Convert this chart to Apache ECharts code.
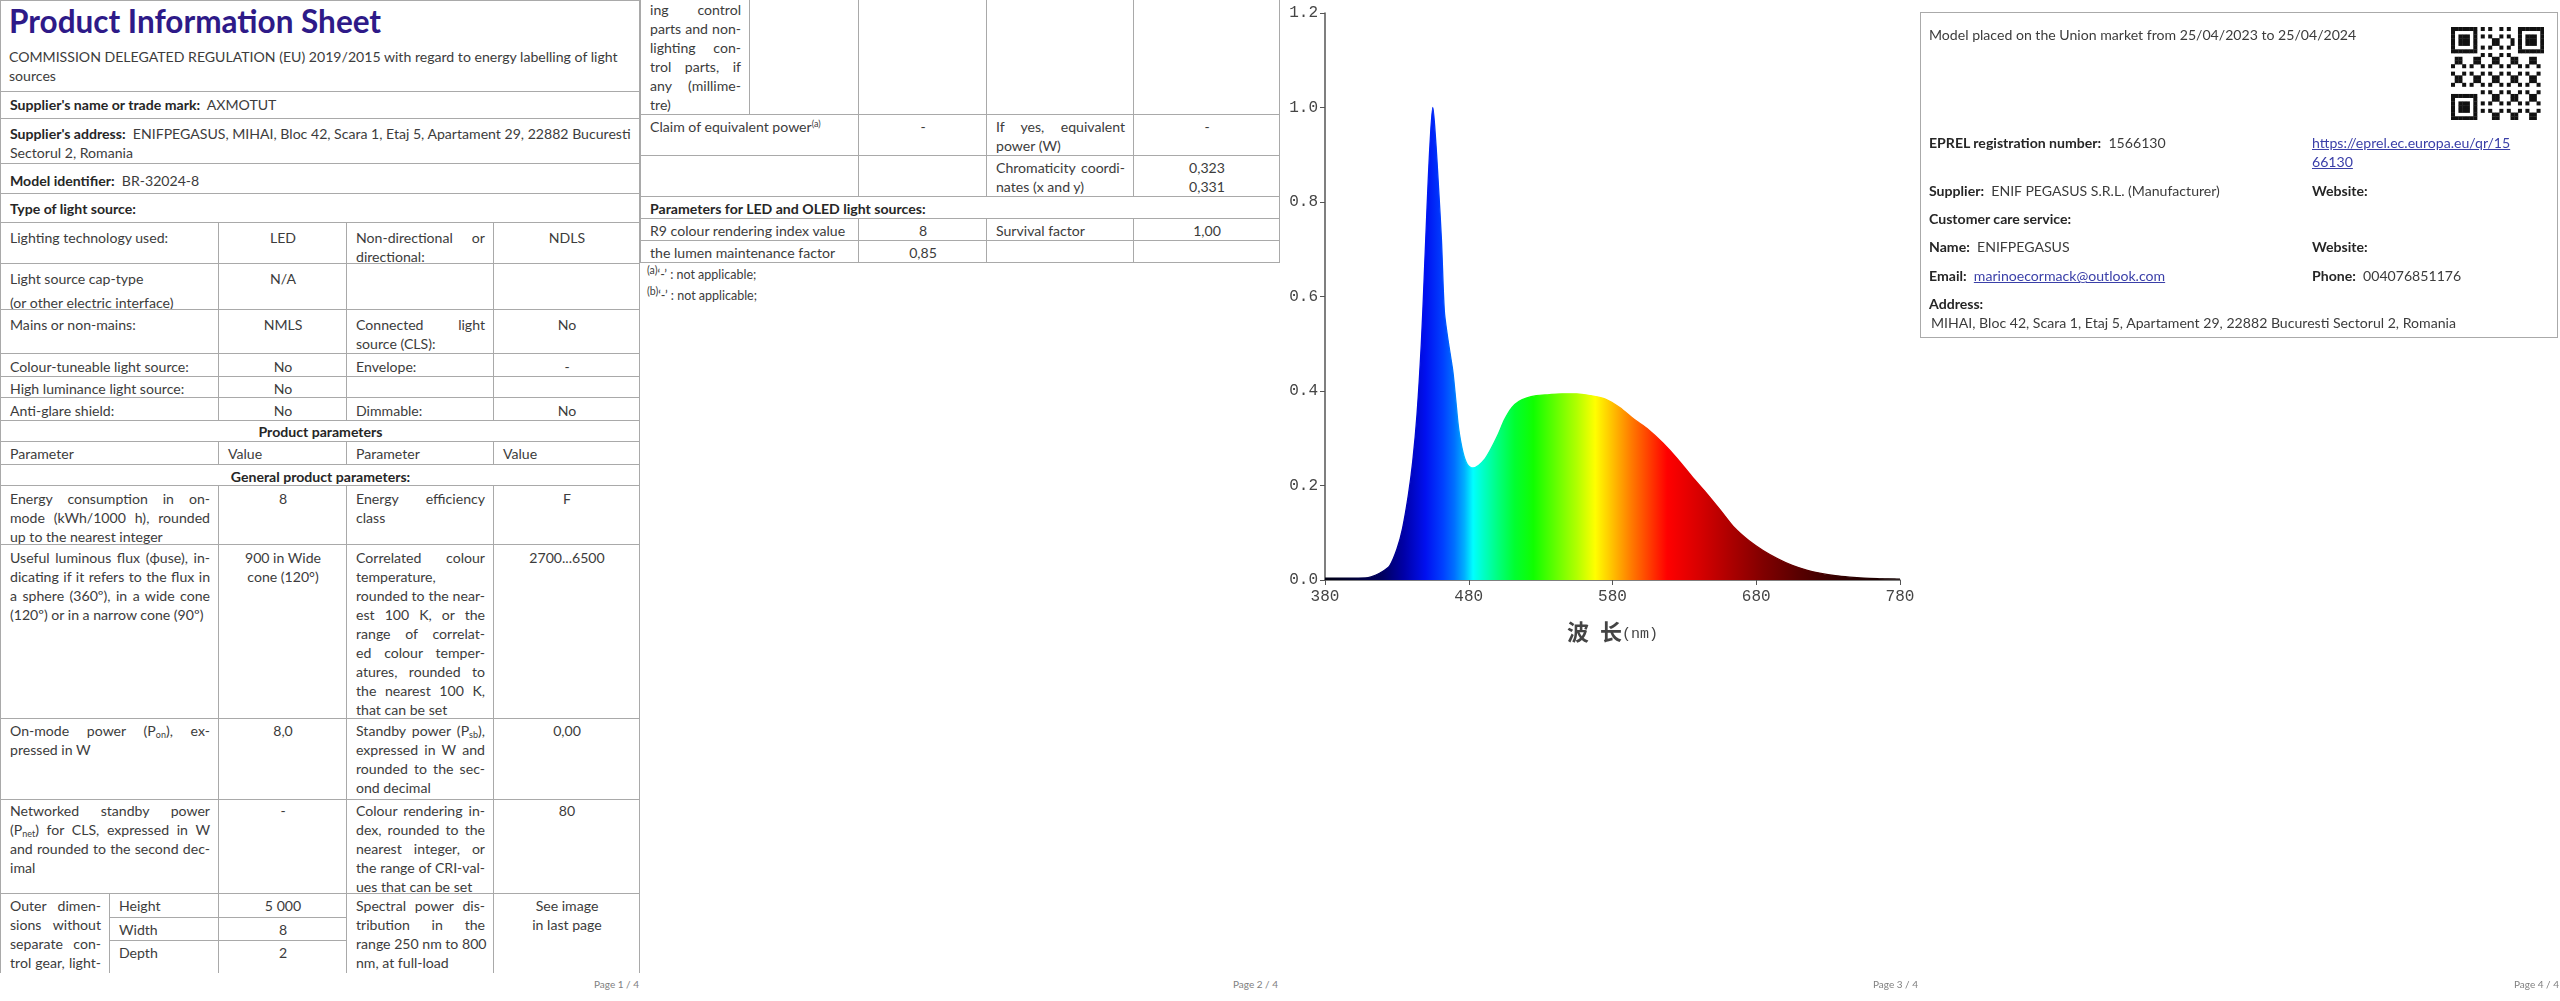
<!DOCTYPE html>
<html>
<head>
<meta charset="utf-8">
<script src="https://cdn.jsdelivr.net/npm/echarts@6.0.0/dist/echarts.min.js"></script>
<style>
html, body { margin: 0; padding: 0; background: #fff; }
body { width: 2560px; height: 1001px; overflow: hidden; position: relative;
       font-family: Lato, 'Noto Sans', sans-serif; font-size: 14.1px; color: #3c3c3c; }
.page { position: absolute; top: 0; width: 640px; height: 1001px; overflow: hidden; }
.clip { position: absolute; left: 0; top: 0; width: 640px; height: 973px; overflow: hidden; }
.cell { position: absolute; box-sizing: border-box; border: 1px solid #a9a9a9; overflow: hidden; padding: 0 8px 0 9px; }
.ln { height: 19px; line-height: 19px; white-space: nowrap; }
.j { text-align: justify; text-align-last: justify; }
.c { text-align: center; }
b, .b { font-weight: 700; color: #262626; }
sub { font-size: 9px; vertical-align: -2px; line-height: 0; }
sup { font-size: 9px; vertical-align: 5px; line-height: 0; }
.foot { position: absolute; font-size: 10px; color: #808080; top: 978px; }
.t { position: absolute; white-space: nowrap; line-height: 19px; }
a { color: #3a3fa8; text-decoration: underline; }
#chart { position: absolute; left: 1280px; top: 0; width: 640px; height: 1001px; }
</style>
</head>
<body>
<div class="page" id="p1"><div class="clip" id="p1c"></div><div class="foot" style="right:1px">Page 1 / 4</div></div>
<div class="page" id="p2" style="left:640px"><div class="foot" style="right:2px">Page 2 / 4</div></div>
<div id="chart"></div>
<div class="page" id="p3f" style="left:1280px;pointer-events:none"><div class="foot" style="right:2px">Page 3 / 4</div></div>
<div class="page" id="p4" style="left:1920px">
  <div style="position:absolute;left:0;top:12px;width:638px;height:326px;box-sizing:border-box;border:1px solid #aaa"></div>
  <div class="t" style="left:9px;top:25px">Model placed on the Union market from 25/04/2023 to 25/04/2024</div>
  <canvas id="qr" width="93" height="93" style="position:absolute;left:531px;top:27px"></canvas>
  <div class="t" style="left:9px;top:133px"><b>EPREL registration number:</b>&nbsp; 1566130</div>
  <div class="t" style="left:392px;top:133px"><a>https://eprel.ec.europa.eu/qr/15</a></div>
  <div class="t" style="left:392px;top:152px"><a>66130</a></div>
  <div class="t" style="left:9px;top:181px"><b>Supplier:</b>&nbsp; ENIF PEGASUS S.R.L. (Manufacturer)</div>
  <div class="t" style="left:392px;top:181px"><b>Website:</b></div>
  <div class="t" style="left:9px;top:209px"><b>Customer care service:</b></div>
  <div class="t" style="left:9px;top:237px"><b>Name:</b>&nbsp; ENIFPEGASUS</div>
  <div class="t" style="left:392px;top:237px"><b>Website:</b></div>
  <div class="t" style="left:9px;top:266px"><b>Email:</b>&nbsp; <a>marinoecormack@outlook.com</a></div>
  <div class="t" style="left:392px;top:266px"><b>Phone:</b>&nbsp; 004076851176</div>
  <div class="t" style="left:9px;top:294px"><b>Address:</b></div>
  <div class="t" style="left:11px;top:313px">MIHAI, Bloc 42, Scara 1, Etaj 5, Apartament 29, 22882 Bucuresti Sectorul 2, Romania</div>
  <div class="foot" style="right:1px">Page 4 / 4</div>
</div>
<script>
// spectrum (wavelength in nm, relative power)
var wavelengths = [380, 390, 400, 410, 415, 420, 425, 430, 434, 438, 441, 444, 447, 449, 451, 453, 455,
  457, 459, 461, 463, 465, 467, 469, 471, 473, 476, 479, 483, 487, 491, 495, 500, 505, 510, 515, 520,
  527, 535, 545, 555, 565, 575, 585, 595, 605, 615, 625, 635, 645, 655, 665, 675, 685, 695, 705, 715,
  725, 735, 745, 755, 765, 780];
var intensity = [0.004, 0.004, 0.004, 0.005, 0.01, 0.018, 0.03, 0.065, 0.11, 0.18, 0.25, 0.35, 0.5,
  0.64, 0.79, 0.92, 1.0, 0.93, 0.83, 0.72, 0.57, 0.52, 0.48, 0.44, 0.38, 0.32, 0.27, 0.245, 0.237,
  0.243, 0.255, 0.275, 0.305, 0.34, 0.365, 0.378, 0.385, 0.39, 0.392, 0.394, 0.394, 0.39, 0.383,
  0.365, 0.34, 0.318, 0.29, 0.257, 0.22, 0.185, 0.148, 0.11, 0.083, 0.062, 0.045, 0.031, 0.021,
  0.014, 0.009, 0.006, 0.004, 0.003, 0.002];
var xTicks = [380, 480, 580, 680, 780];
var yMax = 1.2;
var xName = '波\u2002长';
var xUnit = '(nm)';

// rainbow fill colours by wavelength
var spectrumStops = [[380, '#000010'], [420, '#000060'], [435, '#0000a8'], [450, '#0010f0'],
  [462, '#0040ff'], [470, '#0070ff'], [477, '#00b0ff'], [483, '#00ffff'], [490, '#00ffc8'],
  [500, '#00ff80'], [512, '#00ff30'], [525, '#10ff00'], [540, '#60ff00'], [555, '#b0ff00'],
  [568, '#ffff00'], [580, '#ffc000'], [592, '#ff8000'], [605, '#ff4000'], [618, '#ff0000'],
  [640, '#d80000'], [660, '#b00000'], [685, '#800000'], [710, '#580000'], [740, '#300000'],
  [780, '#100000']];

// ---------- tables (pages 1 and 2) ----------
var C = [0, 109, 218, 346, 493, 639];
function cell(page, c0, c1, y0, y1, lines, o) {
  o = o || {};
  var d = document.createElement('div');
  d.className = 'cell';
  d.style.left = C[c0] + 'px';
  d.style.top = y0 + 'px';
  d.style.width = (C[c1] - C[c0] + 1) + 'px';
  d.style.height = (y1 - y0 + 1) + 'px';
  d.style.paddingTop = (o.pt == null ? 2 : o.pt) + 'px';
  lines.forEach(function (t, i) {
    var l = document.createElement('div');
    l.className = 'ln';
    var just = o.al === 'j' && (o.jall || i < lines.length - 1);
    if (t.charAt(0) === '^') { t = t.slice(1); just = false; }
    if (o.al === 'c') l.classList.add('c');
    if (just) l.classList.add('j');
    if (o.b) l.classList.add('b');
    if (o.lh) { l.style.height = o.lh + 'px'; }
    l.innerHTML = t;
    d.appendChild(l);
  });
  page.appendChild(d);
  return d;
}
function quad(page, y0, y1, a, b, c, d, pt, valAl) {
  var va = valAl || 'c';
  cell(page, 0, 2, y0, y1, a, { al: 'j', pt: pt });
  cell(page, 2, 3, y0, y1, b, { al: va, pt: pt });
  cell(page, 3, 4, y0, y1, c, { al: 'j', pt: pt });
  cell(page, 4, 5, y0, y1, d, { al: va, pt: pt });
}

var p1 = document.getElementById('p1c');
var head = cell(p1, 0, 5, 0, 91, []);
head.innerHTML = '<div class="t" style="left:8px;top:1px;font-size:31.5px;line-height:38px;font-weight:700;color:#2e1a88">Product Information Sheet</div>' +
  '<div class="t" style="left:8px;top:46px">COMMISSION DELEGATED REGULATION (EU) 2019/2015 with regard to energy labelling of light</div>' +
  '<div class="t" style="left:8px;top:65px">sources</div>';
cell(p1, 0, 5, 91, 118, ["<b>Supplier's name or trade mark:</b>&nbsp; AXMOTUT"], { pt: 3 });
cell(p1, 0, 5, 118, 163, ["<b>Supplier's address:</b>&nbsp; ENIFPEGASUS, MIHAI, Bloc 42, Scara 1, Etaj 5, Apartament 29, 22882 Bucuresti", 'Sectorul 2, Romania'], { pt: 5 });
cell(p1, 0, 5, 163, 193, ['<b>Model identifier:</b>&nbsp; BR-32024-8'], { pt: 7 });
cell(p1, 0, 5, 193, 222, ['<b>Type of light source:</b>'], { pt: 5 });
quad(p1, 222, 263, ['Lighting technology used:'], ['LED'], ['Non-directional or', 'directional:'], ['NDLS'], 5);
cell(p1, 0, 2, 263, 309, ['^Light source cap-type', '(or other electric interface)'], { al: 'j', pt: 5, lh: 24 });
cell(p1, 2, 3, 263, 309, ['N/A'], { al: 'c', pt: 5 });
cell(p1, 3, 4, 263, 309, []);
cell(p1, 4, 5, 263, 309, []);
quad(p1, 309, 353, ['Mains or non-mains:'], ['NMLS'], ['Connected light', 'source (CLS):'], ['No'], 5);
quad(p1, 353, 376, ['Colour-tuneable light source:'], ['No'], ['Envelope:'], ['-'], 2.5);
quad(p1, 376, 397, ['High luminance light source:'], ['No'], [], [], 1.5);
quad(p1, 397, 420, ['Anti-glare shield:'], ['No'], ['Dimmable:'], ['No'], 2.5);
cell(p1, 0, 5, 420, 441, ['Product parameters'], { al: 'c', b: 1, pt: 1 });
quad(p1, 441, 464, ['Parameter'], ['Value'], ['Parameter'], ['Value'], 2, 'l');
cell(p1, 0, 5, 464, 485, ['General product parameters:'], { al: 'c', b: 1, pt: 1.5 });
quad(p1, 485, 544, ['Energy consumption in on-', 'mode (kWh/1000 h), rounded', 'up to the nearest integer'], ['8'],
  ['Energy efficiency', 'class'], ['F'], 3);
quad(p1, 544, 718, ['Useful luminous flux (ϕuse), in-', 'dicating if it refers to the flux in', 'a sphere (360º), in a wide cone', '(120º) or in a narrow cone (90º)'],
  ['900 in Wide', 'cone (120°)'],
  ['Correlated colour', '^temperature,', 'rounded to the near-', 'est 100 K, or the', 'range of correlat-', 'ed colour temper-', 'atures, rounded to', 'the nearest 100 K,', 'that can be set'],
  ['2700...6500'], 3);
quad(p1, 718, 799, ['On-mode power (P<sub>on</sub>), ex-', 'pressed in W'], ['8,0'],
  ['Standby power (P<sub>sb</sub>),', 'expressed in W and', 'rounded to the sec-', 'ond decimal'], ['0,00'], 1.5);
quad(p1, 799, 893, ['Networked standby power', '(P<sub>net</sub>) for CLS, expressed in W', 'and rounded to the second dec-', 'imal'], ['-'],
  ['Colour rendering in-', 'dex, rounded to the', 'nearest integer, or', 'the range of CRI-val-', 'ues that can be set'], ['80'], 1);
cell(p1, 0, 1, 893, 990, ['Outer dimen-', 'sions without', 'separate con-', 'trol gear, light-'], { al: 'j', jall: 1, pt: 2 });
cell(p1, 1, 2, 893, 917, ['Height'], { pt: 2 });
cell(p1, 1, 2, 917, 940, ['Width'], { pt: 2 });
cell(p1, 1, 2, 940, 990, ['Depth'], { pt: 2 });
cell(p1, 2, 3, 893, 917, ['5 000'], { al: 'c', pt: 2 });
cell(p1, 2, 3, 917, 940, ['8'], { al: 'c', pt: 2 });
cell(p1, 2, 3, 940, 990, ['2'], { al: 'c', pt: 2 });
cell(p1, 3, 4, 893, 990, ['Spectral power dis-', 'tribution in the', 'range 250 nm to 800', 'nm, at full-load'], { al: 'j', pt: 2 });
cell(p1, 4, 5, 893, 990, ['See image', 'in last page'], { al: 'c', pt: 2 });

var p2 = document.getElementById('p2');
cell(p2, 0, 1, -1, 114, ['ing control', 'parts and non-', 'lighting con-', 'trol parts, if', 'any (millime-', 'tre)'], { al: 'j', pt: 0 });
cell(p2, 1, 2, -1, 114, []);
cell(p2, 2, 3, -1, 114, []);
cell(p2, 3, 4, -1, 114, []);
cell(p2, 4, 5, -1, 114, []);
quad(p2, 114, 155, ['Claim of equivalent power<sup>(a)</sup>'], ['-'], ['If yes, equivalent', 'power (W)'], ['-'], 2);
quad(p2, 155, 196, [], [], ['Chromaticity coordi-', 'nates (x and y)'], ['0,323', '0,331'], 1.5);
cell(p2, 0, 5, 196, 218, ['Parameters for LED and OLED light sources:'], { b: 1, pt: 1.5 });
quad(p2, 218, 240, ['R9 colour rendering index value'], ['8'], ['Survival factor'], ['1,00'], 1.5);
quad(p2, 240, 262, ['the lumen maintenance factor'], ['0,85'], [], [], 1.5);
['(a)', '(b)'].forEach(function (k, i) {
  var f = document.createElement('div');
  f.className = 't';
  f.style.left = '7px';
  f.style.top = (265 + i * 21) + 'px';
  f.style.fontSize = '12.5px';
  f.innerHTML = '<sup style="font-size:10.5px">' + k + '</sup>\u2018-\u2019 : not applicable;';
  p2.appendChild(f);
});

// ---------- QR block (page 4) ----------
(function () {
  var cv = document.getElementById('qr');
  var g = cv.getContext('2d');
  var n = 25, m = 93 / n;
  g.fillStyle = '#fff';
  g.fillRect(0, 0, 93, 93);
  g.fillStyle = '#111';
  function finder(cx, cy) {
    for (var i = 0; i < 7; i++) for (var j = 0; j < 7; j++) {
      var edge = i === 0 || j === 0 || i === 6 || j === 6;
      var core = i >= 2 && i <= 4 && j >= 2 && j <= 4;
      if (edge || core) g.fillRect((cx + i) * m, (cy + j) * m, m + 0.3, m + 0.3);
    }
  }
  for (var i = 0; i < n; i++) for (var j = 0; j < n; j++) {
    var inF = (i < 8 && j < 8) || (i > n - 9 && j < 8) || (i < 8 && j > n - 9);
    if (inF) continue;
    if (((i * 7 + j * 13 + i * j * 3) % 5) < 2) g.fillRect(i * m, j * m, m + 0.3, m + 0.3);
  }
  finder(0, 0); finder(n - 7, 0); finder(0, n - 7);
})();

// ---------- spectrum chart (page 3) ----------
var chart = echarts.init(document.getElementById('chart'));
function spectrumGradient() {
  return new echarts.graphic.LinearGradient(0, 0, 1, 0, spectrumStops.map(function (s) {
    return { offset: (s[0] - xTicks[0]) / (xTicks[xTicks.length - 1] - xTicks[0]), color: s[1] };
  }));
}
var axisColor = '#555';
var labelFont = { fontFamily: 'Liberation Mono', fontSize: 16, color: '#454545' };
var option = {
  animation: false,
  grid: { left: 45, right: 20, top: 13, bottom: 421, outerBoundsMode: 'none', containLabel: false },
  xAxis: {
    type: 'value',
    min: xTicks[0],
    max: xTicks[xTicks.length - 1],
    name: '{a|' + xName + '}{b|' + xUnit + '}',
    nameLocation: 'middle',
    nameGap: 41,
    nameTextStyle: {
      rich: {
        a: { fontFamily: 'Noto Sans CJK SC', fontWeight: 'bold', fontSize: 22, color: '#444' },
        b: { fontFamily: 'Liberation Mono', fontSize: 15, color: '#444', padding: [4, 0, 0, 0] }
      }
    },
    axisLine: { lineStyle: { color: axisColor, width: 1.5 } },
    axisTick: { show: true, length: 5, lineStyle: { color: axisColor }, customValues: xTicks },
    axisLabel: Object.assign({ margin: 9, customValues: xTicks }, labelFont),
    splitLine: { show: false }
  },
  yAxis: {
    type: 'value',
    min: 0,
    max: yMax,
    interval: 0.2,
    axisLine: { show: true, lineStyle: { color: axisColor, width: 1.5 } },
    axisTick: { show: true, length: 5, lineStyle: { color: axisColor } },
    axisLabel: Object.assign({ margin: 7, formatter: function (v) { return v.toFixed(1); } }, labelFont),
    splitLine: { show: false }
  },
  series: [{
    type: 'line',
    data: wavelengths.map(function (w, i) { return [w, intensity[i]]; }),
    showSymbol: false,
    smooth: 0.3,
    lineStyle: { width: 1.3, color: spectrumGradient() },
    areaStyle: { color: spectrumGradient(), opacity: 1 }
  }]
};
chart.setOption(option);
</script>
</body>
</html>
